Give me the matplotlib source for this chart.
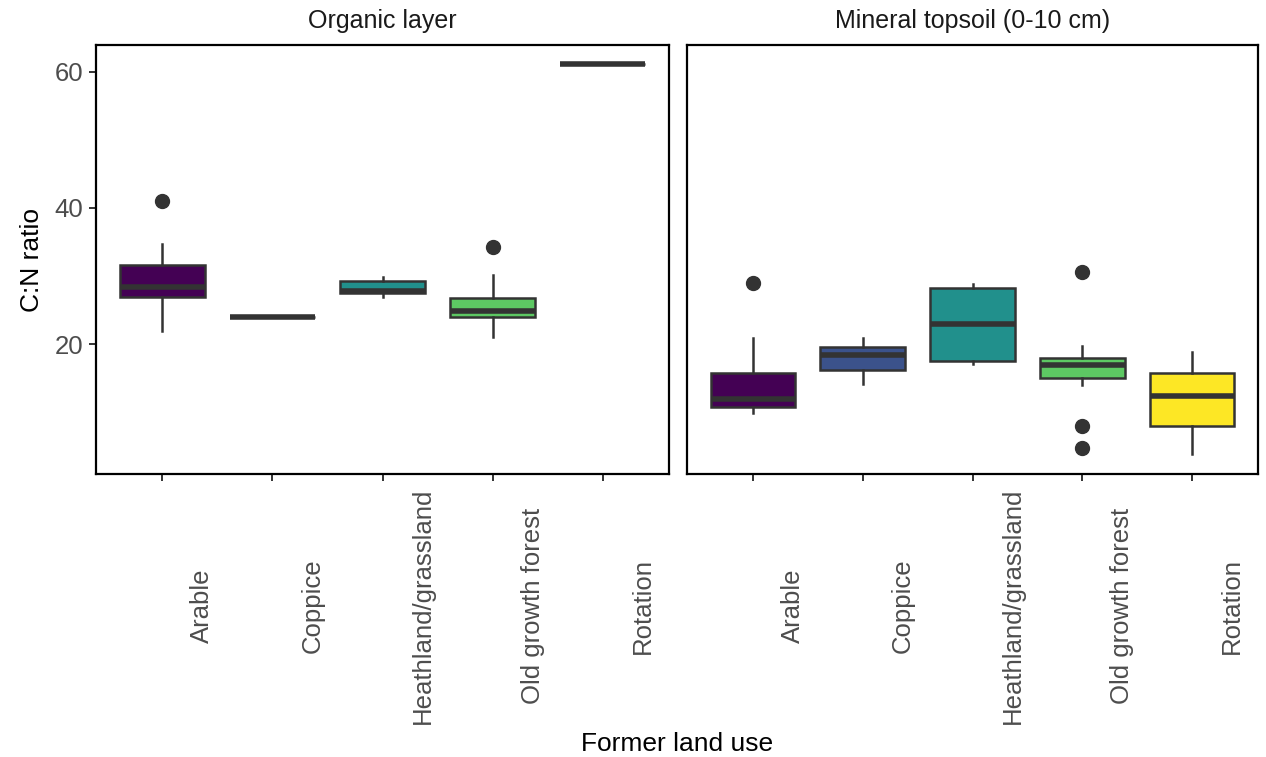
import matplotlib
matplotlib.use("Agg")
import matplotlib.pyplot as plt
from matplotlib.transforms import ScaledTranslation

plt.rcParams['font.family'] = ['Liberation Sans', 'DejaVu Sans']

categories = ["Arable", "Coppice", "Heathland/grassland", "Old growth forest", "Rotation"]
colors = ["#440154", "#3B528B", "#21908C", "#5DC863", "#FDE725"]
panels = ["Organic layer", "Mineral topsoil (0-10 cm)"]

# Organic layer
org_lo = [22.0, 24.0, 26.9, 21.1, 61.1]
org_q1 = [26.9, 24.0, 27.5, 24.05, 61.1]
org_med = [28.45, 24.0, 27.85, 24.9, 61.1]
org_q3 = [31.6, 24.0, 29.3, 26.8, 61.1]
org_hi = [34.7, 24.0, 29.9, 30.2, 61.1]
org_fliers = [[41.0], [], [], [34.2], []]

# Mineral topsoil
min_lo = [9.96, 14.2, 17.1, 14.0, 3.9]
min_q1 = [10.85, 16.2, 17.5, 15.0, 8.05]
min_med = [11.9, 18.4, 23.0, 16.95, 12.4]
min_q3 = [15.75, 19.65, 28.2, 17.95, 15.75]
min_hi = [20.9, 20.9, 28.85, 19.75, 18.9]
min_fliers = [[28.95], [], [], [30.6, 8.0, 4.8], []]

W, H = 1266, 757
fig = plt.figure(figsize=(W / 100, H / 100), dpi=100)

def fx(px):
    return px / W

def fy(py):
    return 1 - py / H

top, bottom = 45, 474
ax1 = fig.add_axes([fx(96), fy(bottom), fx(669 - 96), (bottom - top) / H])
ax2 = fig.add_axes([fx(687), fy(bottom), fx(1258 - 687), (bottom - top) / H])

dark = "#333333"
data = [
    (org_lo, org_q1, org_med, org_q3, org_hi, org_fliers),
    (min_lo, min_q1, min_med, min_q3, min_hi, min_fliers),
]
positions = list(range(1, len(categories) + 1))

for ax, (lo, q1, med, q3, hi, fl), title in zip([ax1, ax2], data, panels):
    stats = []
    for i in range(len(categories)):
        stats.append(dict(whislo=lo[i], q1=q1[i], med=med[i], q3=q3[i],
                          whishi=hi[i], fliers=fl[i], label=categories[i]))
    bp = ax.bxp(stats, positions=positions, widths=0.77, patch_artist=True,
                showcaps=False, showfliers=True,
                boxprops=dict(edgecolor=dark, linewidth=1.8),
                medianprops=dict(color=dark, linewidth=4.0, solid_capstyle='butt'),
                whiskerprops=dict(color=dark, linewidth=1.8),
                flierprops=dict(marker='o', markerfacecolor=dark, markeredgecolor=dark,
                                markersize=10, linestyle='none'))
    for patch, c in zip(bp['boxes'], colors):
        patch.set_facecolor(c)
    ax.set_xlim(0.4, 5.6)
    ax.set_ylim(0.97, 63.9)
    ax.set_xticks(positions)
    ax.set_xticklabels(categories)
    for sp in ax.spines.values():
        sp.set_color('black')
        sp.set_linewidth(1.6)
    ax.tick_params(axis='x', length=5, width=1.4, color=dark, labelcolor="#4D4D4D",
                   labelsize=18.5, pad=0)
    offset = ScaledTranslation(0.40, -1.25, fig.dpi_scale_trans)
    for lab in ax.get_xticklabels():
        lab.set_rotation(90)
        lab.set_ha('center')
        lab.set_va('center')
        lab.set_transform(lab.get_transform() + offset)
    cx = (ax.get_position().x0 + ax.get_position().x1) / 2
    fig.text(cx, fy(21), title, ha='center', va='center', fontsize=18, color="#1A1A1A")

ax1.set_yticks([20, 40, 60])
ax1.tick_params(axis='y', length=5, width=1.4, color=dark, labelcolor="#4D4D4D",
                labelsize=18.5, pad=4)
ax2.set_yticks([])
fig.text(fx(32), fy(260), "C:N ratio", rotation=90, ha='center', va='center', fontsize=19)
fig.text(fx(677), fy(744), "Former land use", ha='center', va='center', fontsize=19)

fig.savefig("out.png", dpi=100)
